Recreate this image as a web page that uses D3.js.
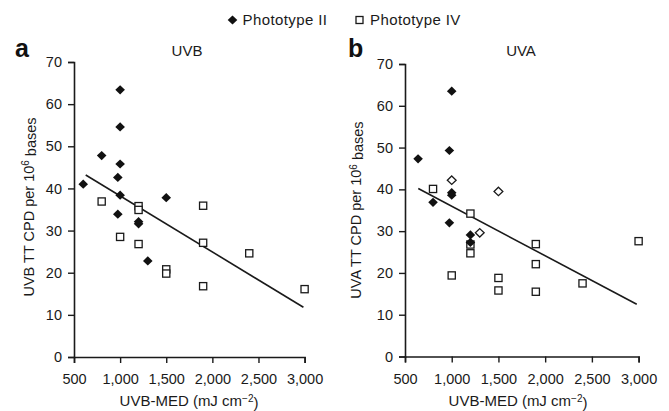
<!DOCTYPE html>
<html>
<head>
<meta charset="utf-8">
<script src="https://cdn.jsdelivr.net/npm/d3@7"></script>
<style>
  html, body { margin: 0; padding: 0; background: #fff; }
  svg { display: block; font-family: "Liberation Sans", Arial, Helvetica, sans-serif; }
</style>
</head>
<body>
<svg id="chart" width="669" height="411"></svg>
<script>
// ---- Data ----
const xTicks = [500, 1000, 1500, 2000, 2500, 3000];
const yTicks = [0, 10, 20, 30, 40, 50, 60, 70];

// Panel a: UVB
const uvbIIx  = [1000, 1000, 800, 1000, 975, 600, 1000, 1500, 975, 1200, 1200, 1300];
const uvbIIy  = [63.4, 54.6, 47.8, 45.8, 42.6, 41.0, 38.4, 37.8, 33.9, 32.1, 31.6, 22.8];
const uvbIVx  = [800, 1200, 1200, 1900, 1000, 1200, 1900, 2400, 1500, 1500, 1900, 3000];
const uvbIVy  = [36.9, 35.8, 34.9, 35.9, 28.5, 26.8, 27.1, 24.6, 20.8, 19.8, 16.8, 16.1];
const uvbFitX = [627, 2987];
const uvbFitY = [43.2, 11.8];

// Panel b: UVA
const uvaIIx     = [1000, 975, 640, 1000, 1000, 800, 975, 1200, 1200];
const uvaIIy     = [63.5, 49.3, 47.3, 39.2, 38.6, 36.9, 32.0, 29.1, 27.3];
const uvaIIopenX = [1000, 1500, 1300];
const uvaIIopenY = [42.2, 39.5, 29.6];
const uvaIVx     = [800, 1200, 1200, 1200, 1000, 1500, 1500, 1900, 1900, 1900, 2400, 3000];
const uvaIVy     = [40.1, 34.2, 26.8, 24.7, 19.4, 18.8, 15.8, 26.9, 22.1, 15.5, 17.5, 27.6];
const uvaFitX = [642, 2980];
const uvaFitY = [40.2, 12.5];

const legendLabels = ["Phototype II", "Phototype IV"];

// ---- Drawing ----
const svg = d3.select("#chart");
const ink = "#1a1a1a";
const fmt = d3.format(",");

const diamond = "M0,-4.6L4.8,0L0,4.6L-4.8,0Z";

function zip(xs, ys) { return xs.map((x, i) => ({x, y: ys[i]})); }

function panel(opt) {
  const x = d3.scaleLinear().domain([500, 3000]).range(opt.xr);
  const y = d3.scaleLinear().domain([0, 70]).range(opt.yr);
  const g = svg.append("g");

  const xa = g.append("g").attr("transform", `translate(0,${opt.yr[0]})`)
    .call(d3.axisBottom(x).tickValues(xTicks).tickFormat(fmt).tickSizeOuter(0).tickSize(6).tickPadding(11));
  const ya = g.append("g").attr("transform", `translate(${opt.xr[0]},0)`)
    .call(d3.axisLeft(y).tickValues(yTicks).tickSizeOuter(0).tickSize(6).tickPadding(6));
  [xa, ya].forEach(a => {
    a.select(".domain").attr("stroke", ink).attr("stroke-width", 1.6);
    a.selectAll(".tick line").attr("stroke", ink).attr("stroke-width", 1.4);
    a.selectAll(".tick text").attr("fill", ink).style("font-size", "14.5px")
      .style("font-family", '"Liberation Sans", Arial, sans-serif');
  });

  // regression line
  g.append("line")
    .attr("x1", x(opt.fitX[0])).attr("y1", y(opt.fitY[0]))
    .attr("x2", x(opt.fitX[1])).attr("y2", y(opt.fitY[1]))
    .attr("stroke", ink).attr("stroke-width", 1.6);

  // squares (Phototype IV)
  g.selectAll(".sq").data(zip(opt.ivX, opt.ivY)).enter().append("rect")
    .attr("x", d => x(d.x) - 3.6).attr("y", d => y(d.y) - 3.6)
    .attr("width", 7.2).attr("height", 7.2)
    .attr("fill", "#fff").attr("stroke", ink).attr("stroke-width", 1.3);

  // open diamonds
  if (opt.openX) {
    g.selectAll(".od").data(zip(opt.openX, opt.openY)).enter().append("path")
      .attr("d", "M0,-4.2L4.4,0L0,4.2L-4.4,0Z")
      .attr("transform", d => `translate(${x(d.x)},${y(d.y)})`)
      .attr("fill", "#fff").attr("stroke", ink).attr("stroke-width", 1.3);
  }

  // filled diamonds (Phototype II)
  g.selectAll(".fd").data(zip(opt.iiX, opt.iiY)).enter().append("path")
    .attr("d", diamond)
    .attr("transform", d => `translate(${x(d.x)},${y(d.y)})`)
    .attr("fill", "#111");

  // panel title
  g.append("text").attr("x", opt.titleX).attr("y", 56).attr("text-anchor", "middle")
    .attr("fill", ink).style("font-size", "15px").text(opt.title);

  // panel letter
  g.append("text").attr("x", opt.letterX).attr("y", 56.5)
    .attr("fill", "#111").style("font-size", "25px").style("font-weight", "bold").text(opt.letter);

  // x axis title
  const xt = g.append("text").attr("x", opt.xTitleX).attr("y", 406).attr("text-anchor", "middle")
    .attr("fill", ink).style("font-size", "15px");
  xt.append("tspan").text("UVB-MED (mJ cm");
  xt.append("tspan").attr("dy", "-0.45em").style("font-size", "10px").text("\u22122");
  xt.append("tspan").attr("dy", "0.45em").text(")");

  // y axis title
  const yt = g.append("text")
    .attr("transform", `translate(${opt.yTitleX},${opt.yTitleY}) rotate(-90)`)
    .attr("text-anchor", "middle").attr("fill", ink).style("font-size", "14.5px");
  yt.append("tspan").text(opt.yLabel + " TT CPD per 10");
  yt.append("tspan").attr("dy", "-0.45em").style("font-size", "10px").text("6");
  yt.append("tspan").attr("dy", "0.45em").text(" bases");
}

panel({
  xr: [74, 304.6], yr: [357, 62],
  iiX: uvbIIx, iiY: uvbIIy, ivX: uvbIVx, ivY: uvbIVy,
  fitX: uvbFitX, fitY: uvbFitY,
  title: "UVB", titleX: 187, letter: "a", letterX: 15,
  xTitleX: 189, yTitleX: 33.5, yTitleY: 207, yLabel: "UVB"
});

panel({
  xr: [405, 638.6], yr: [356.5, 64],
  iiX: uvaIIx, iiY: uvaIIy, ivX: uvaIVx, ivY: uvaIVy,
  openX: uvaIIopenX, openY: uvaIIopenY,
  fitX: uvaFitX, fitY: uvaFitY,
  title: "UVA", titleX: 521, letter: "b", letterX: 348,
  xTitleX: 518, yTitleX: 361, yTitleY: 210, yLabel: "UVA"
});

// legend
const lg = svg.append("g");
lg.append("path").attr("d", diamond).attr("transform", "translate(232.5,20)").attr("fill", "#111");
lg.append("text").attr("x", 242.5).attr("y", 25).attr("fill", ink)
  .style("font-size", "15px").style("letter-spacing", "0.4px").text(legendLabels[0]);
lg.append("rect").attr("x", 356).attr("y", 16.5).attr("width", 7).attr("height", 7)
  .attr("fill", "#fff").attr("stroke", ink).attr("stroke-width", 1.3);
lg.append("text").attr("x", 370).attr("y", 25).attr("fill", ink)
  .style("font-size", "15px").style("letter-spacing", "0.4px").text(legendLabels[1]);
</script>
</body>
</html>
